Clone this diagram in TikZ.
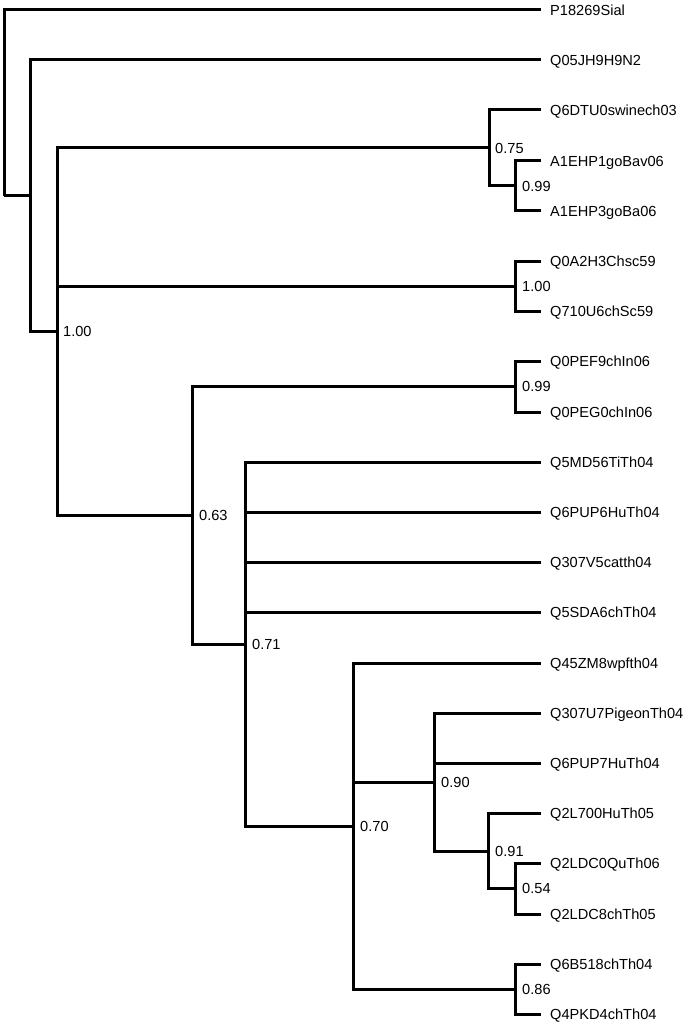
\documentclass[tikz,border=0pt]{standalone}
\usepackage{fontspec}
\setmainfont{Liberation Sans}
\begin{document}
\begin{tikzpicture}[x=1pt,y=-1pt,
  branch/.style={line width=3pt,line join=miter},
  leaflab/.style={anchor=west,inner sep=0pt,font=\fontsize{14.6}{16}\selectfont,text height=10.45pt,text depth=0pt},
  supp/.style={anchor=west,inner sep=0pt,font=\fontsize{14.6}{16}\selectfont,text height=10.45pt,text depth=0pt}]
\useasboundingbox[fill=white] (0,0) rectangle (685,1024);
% leaf ends and labels
\foreach \i/\t in {0/P18269Sial,1/Q05JH9H9N2,2/Q6DTU0swinech03,3/A1EHP1goBav06,4/A1EHP3goBa06,
  5/Q0A2H3Chsc59,6/Q710U6chSc59,7/Q0PEF9chIn06,8/Q0PEG0chIn06,9/Q5MD56TiTh04,10/Q6PUP6HuTh04,
  11/Q307V5catth04,12/Q5SDA6chTh04,13/Q45ZM8wpfth04,14/Q307U7PigeonTh04,15/Q6PUP7HuTh04,
  16/Q2L700HuTh05,17/Q2LDC0QuTh06,18/Q2LDC8chTh05,19/Q6B518chTh04,20/Q4PKD4chTh04}{
  \coordinate (e\i) at (541,{round(10+50.2*\i)});
  \node[leaflab] (t\i) at (550,{round(10+50.2*\i)}) {\t};
}
% internal nodes
\coordinate (r) at (4,196);
\coordinate (a) at (30,196);
\coordinate (b) at (57,331);
\coordinate (c) at (489,148);
\coordinate (g) at (515,186);
\coordinate (d) at (515,286);
\coordinate (f) at (192,515);
\coordinate (h) at (515,386);
\coordinate (i) at (245,644);
\coordinate (j) at (353,826);
\coordinate (k) at (434,782);
\coordinate (l) at (488,851);
\coordinate (o) at (515,888);
\coordinate (m) at (515,989);
% branches
\draw[branch] (r) |- (e0);
\draw[branch] (r) |- (a);
\draw[branch] (a) |- (e1);
\draw[branch] (a) |- (b);
\draw[branch] (b) |- (c);
\draw[branch] (b) |- (d);
\draw[branch] (b) |- (f);
\draw[branch] (c) |- (e2);
\draw[branch] (c) |- (g);
\draw[branch] (g) |- (e3);
\draw[branch] (g) |- (e4);
\draw[branch] (d) |- (e5);
\draw[branch] (d) |- (e6);
\draw[branch] (f) |- (h);
\draw[branch] (f) |- (i);
\draw[branch] (h) |- (e7);
\draw[branch] (h) |- (e8);
\draw[branch] (i) |- (e9);
\draw[branch] (i) |- (e10);
\draw[branch] (i) |- (e11);
\draw[branch] (i) |- (e12);
\draw[branch] (i) |- (j);
\draw[branch] (j) |- (e13);
\draw[branch] (j) |- (k);
\draw[branch] (j) |- (m);
\draw[branch] (k) |- (e14);
\draw[branch] (k) |- (e15);
\draw[branch] (k) |- (l);
\draw[branch] (l) |- (e16);
\draw[branch] (l) |- (o);
\draw[branch] (o) |- (e17);
\draw[branch] (o) |- (e18);
\draw[branch] (m) |- (e19);
\draw[branch] (m) |- (e20);
% support values
\node[supp] (sb) at (63,331) {1.00};
\node[supp] (sc) at (495,148) {0.75};
\node[supp] (sg) at (522,186) {0.99};
\node[supp] (sd) at (522,286) {1.00};
\node[supp] (sf) at (199,515) {0.63};
\node[supp] (sh) at (522,386) {0.99};
\node[supp] (si) at (252,644) {0.71};
\node[supp] (sj) at (360,826) {0.70};
\node[supp] (sk) at (441,782) {0.90};
\node[supp] (sl) at (495,851) {0.91};
\node[supp] (so) at (522,888) {0.54};
\node[supp] (sm) at (522,989) {0.86};
\end{tikzpicture}
\end{document}
